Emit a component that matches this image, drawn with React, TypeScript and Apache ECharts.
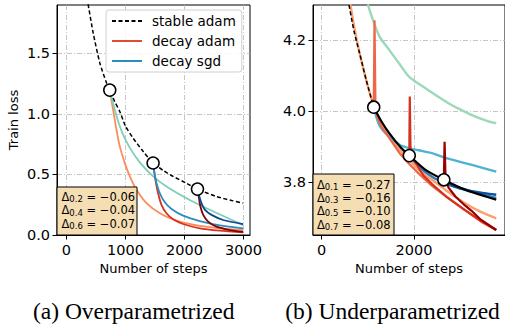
import React, { useEffect, useRef } from "react";
import * as echarts from "echarts";

type P = [number, number];

// ---------- Left panel: Overparametrized ----------
const leftXTicks = [0, 1000, 2000, 3000];
const leftYTicks = [0, 0.5, 1.0, 1.5];
const leftStable: P[] = [
  [367, 1.907], [452, 1.672], [565, 1.423], [678, 1.258], [734, 1.197], [820, 1.1],
  [904, 1.02], [1000, 0.9], [1130, 0.8], [1300, 0.69], [1468, 0.595], [1650, 0.53],
  [1808, 0.484], [2034, 0.428], [2220, 0.379], [2542, 0.318], [2800, 0.285], [2994, 0.263],
];
const leftAdam02: P[] = [
  [734, 1.19], [790, 1.036], [847, 0.871], [904, 0.732], [989, 0.594], [1074, 0.484],
  [1187, 0.373], [1356, 0.263], [1582, 0.18], [1864, 0.119], [2260, 0.075], [2712, 0.05],
  [2994, 0.041],
];
const leftSgd02: P[] = [
  [734, 1.19], [819, 1.036], [875, 0.94], [960, 0.83], [1074, 0.72], [1243, 0.6],
  [1469, 0.484], [1695, 0.401], [2034, 0.304], [2373, 0.221], [2712, 0.145], [2994, 0.082],
];
const leftAdam04: P[] = [
  [1468, 0.595], [1485, 0.53], [1514, 0.44], [1553, 0.345], [1610, 0.249], [1695, 0.18],
  [1808, 0.13], [1977, 0.091], [2260, 0.055], [2599, 0.036], [2994, 0.022],
];
const leftSgd04: P[] = [
  [1468, 0.595], [1496, 0.5], [1525, 0.43], [1582, 0.345], [1667, 0.27], [1780, 0.215],
  [1977, 0.16], [2260, 0.115], [2599, 0.08], [2994, 0.055],
];
const leftAdam06: P[] = [
  [2220, 0.379], [2243, 0.31], [2270, 0.235], [2317, 0.166], [2401, 0.111], [2542, 0.069],
  [2768, 0.041], [2994, 0.025],
];
const leftSgd06: P[] = [
  [2220, 0.379], [2245, 0.33], [2288, 0.263], [2345, 0.21], [2458, 0.166], [2655, 0.124],
  [2994, 0.09],
];
const leftMarkers: P[] = [[734, 1.197], [1468, 0.595], [2220, 0.379]];
const leftDeltaKeys = ["0.2", "0.4", "0.6"];
const leftDeltaVals = ["−0.06", "−0.04", "−0.07"];

// ---------- Right panel: Underparametrized ----------
const rightXTicks = [0, 2000];
const rightYTicks = [3.8, 4.0, 4.2];
const rightStable: P[] = [
  [592, 4.298], [700, 4.225], [821, 4.163], [964, 4.088], [1128, 4.011], [1300, 3.97],
  [1464, 3.938], [1700, 3.9], [1899, 3.875], [2250, 3.835], [2649, 3.807], [3107, 3.779],
  [3464, 3.764], [3785, 3.751],
];
const rightAdam01: P[] = [
  [620, 4.3], [700, 4.24], [800, 4.175], [892, 4.125], [1000, 4.07], [1128, 4.014],
  [1300, 3.965], [1464, 3.928], [1700, 3.89], [1893, 3.863], [2100, 3.835], [2393, 3.807],
  [2700, 3.777], [3107, 3.741], [3450, 3.717], [3785, 3.699],
];
const rightSgd01: P[] = [
  [1000, 4.3], [1100, 4.26], [1250, 4.21], [1464, 4.172], [1700, 4.13], [1893, 4.097],
  [2250, 4.064], [2750, 4.022], [3000, 4.005], [3321, 3.985], [3600, 3.972], [3785, 3.966],
];
const rightAdam03: P[] = [
  [1128, 4.011], [1145, 4.255], [1165, 4.02], [1200, 3.985], [1300, 3.955], [1464, 3.925],
  [1700, 3.88], [1893, 3.852], [2100, 3.825], [2393, 3.79], [2700, 3.76], [3107, 3.722],
  [3450, 3.69], [3785, 3.666],
];
const rightSgd03: P[] = [
  [1128, 4.011], [1250, 3.96], [1464, 3.928], [1700, 3.905], [1893, 3.896], [2100, 3.89],
  [2393, 3.882], [2700, 3.868], [3107, 3.854], [3450, 3.842], [3785, 3.83],
];
const rightAdam05: P[] = [
  [1899, 3.875], [1910, 4.041], [1925, 3.9], [1950, 3.87], [2036, 3.855], [2200, 3.82],
  [2393, 3.795], [2700, 3.76], [3107, 3.722], [3450, 3.692], [3785, 3.666],
];
const rightSgd05: P[] = [
  [1899, 3.875], [2107, 3.844], [2400, 3.815], [2679, 3.797], [3000, 3.782], [3250, 3.775],
  [3500, 3.765], [3785, 3.756],
];
const rightAdam07: P[] = [
  [2649, 3.807], [2665, 3.914], [2685, 3.81], [2750, 3.785], [2900, 3.76], [3107, 3.735],
  [3250, 3.72], [3450, 3.695], [3785, 3.666],
];
const rightSgd07: P[] = [
  [2649, 3.807], [2821, 3.792], [3000, 3.784], [3250, 3.775], [3500, 3.77], [3785, 3.765],
];
const rightMarkers: P[] = [[1128, 4.011], [1899, 3.875], [2649, 3.807]];
const rightDeltaKeys = ["0.1", "0.3", "0.5", "0.7"];
const rightDeltaVals = ["−0.27", "−0.16", "−0.10", "−0.08"];

const FONT = "DejaVu Sans";
const gridDash = [5, 2, 1, 2];

function axisCommon(ticks: number[], fmt: (v: number) => string) {
  return {
    axisLine: { show: true, onZero: false, lineStyle: { color: "#000", width: 1 } },
    axisTick: { show: true, inside: false, length: 4.5, customValues: ticks, lineStyle: { color: "#000", width: 1 } },
    axisLabel: {
      show: true, customValues: ticks, color: "#000", fontSize: 14.5, margin: 7, fontFamily: FONT,
      formatter: fmt,
    },
    splitLine: { show: true, lineStyle: { color: "#b8b8b8", width: 0.8, type: gridDash } },
  };
}

function lineSeries(name: string, data: P[], color: string, gi: number, width: number, z: number, extra: any = {}) {
  return {
    name, type: "line", data, xAxisIndex: gi, yAxisIndex: gi, showSymbol: false, symbol: "none",
    smooth: 0.25, z,
    lineStyle: { color, width, ...(extra.lineStyle || {}) },
    itemStyle: { color },
    ...(extra.opts || {}),
  };
}

function deltaText(keys: string[], vals: string[]) {
  return keys.map((k, i) => `{d|Δ}{s|${k}}{d| = ${vals[i]}}`).join("\n");
}

const richStyle = {
  d: { fontSize: 11.5, fontFamily: FONT, lineHeight: 13.3, fill: "#000" },
  s: { fontSize: 8.5, fontFamily: FONT, lineHeight: 7, verticalAlign: "bottom", fill: "#000" },
};

const intFmt = (v: number) => String(Math.round(v));
const decFmt = (v: number) => v.toFixed(1);

export default function App() {
  const ref = useRef<HTMLDivElement>(null);
  useEffect(() => {
    if (!ref.current) return;
    const chart = echarts.init(ref.current, null, { renderer: "svg" });
    const splitIdx = rightStable.findIndex((p) => p[0] === rightMarkers[0][0]);
    const option: any = {
      animation: false,
      backgroundColor: "#fff",
      textStyle: { fontFamily: FONT },
      grid: [
        { left: 57, top: 5, width: 193, height: 230, show: true, borderColor: "#000", borderWidth: 1, backgroundColor: "transparent" },
        { left: 313, top: 5, width: 194, height: 230, show: true, borderColor: "#000", borderWidth: 1, backgroundColor: "transparent" },
      ],
      xAxis: [
        {
          type: "value", gridIndex: 0, min: -160, max: 3110,
          name: "Number of steps", nameLocation: "middle", nameGap: 26,
          nameTextStyle: { fontSize: 13, color: "#000", fontFamily: FONT },
          ...axisCommon(leftXTicks, intFmt),
        },
        {
          type: "value", gridIndex: 1, min: -189, max: 3975,
          name: "Number of steps", nameLocation: "middle", nameGap: 26,
          nameTextStyle: { fontSize: 13, color: "#000", fontFamily: FONT },
          ...axisCommon(rightXTicks, intFmt),
        },
      ],
      yAxis: [
        {
          type: "value", gridIndex: 0, min: 0, max: 1.9,
          name: "Train loss", nameLocation: "middle", nameGap: 37,
          nameTextStyle: { fontSize: 13, color: "#000", fontFamily: FONT },
          ...axisCommon(leftYTicks, decFmt),
        },
        {
          type: "value", gridIndex: 1, min: 3.652, max: 4.298,
          ...axisCommon(rightYTicks, decFmt),
        },
      ],
      legend: {
        show: true, orient: "vertical", left: 106, top: 10,
        itemWidth: 30, itemHeight: 14, itemGap: 6,
        backgroundColor: "rgba(255,255,255,0.85)", borderColor: "#d0d0d0", borderWidth: 1, borderRadius: 3,
        padding: [4, 6, 4, 5],
        itemStyle: { opacity: 0 },
        lineStyle: { width: 2 },
        textStyle: { fontSize: 13.5, color: "#000", fontFamily: FONT, padding: [0, 0, 0, 5] },
        data: ["stable adam", "decay adam", "decay sgd"],
      },
      series: [
        // left
        lineSeries("decay adam 0.2", leftAdam02, "#fc8d59", 0, 1.8, 2),
        lineSeries("decay sgd 0.2", leftSgd02, "#7fcdbb", 0, 1.8, 2),
        lineSeries("decay adam 0.4", leftAdam04, "#d7301f", 0, 1.8, 2),
        lineSeries("decay sgd 0.4", leftSgd04, "#2b8cbe", 0, 1.8, 2),
        lineSeries("decay adam 0.6", leftAdam06, "#7f0000", 0, 1.8, 2),
        lineSeries("decay sgd 0.6", leftSgd06, "#0c4a8a", 0, 1.8, 2),
        lineSeries("stable adam", leftStable, "#000", 0, 1.5, 4, { lineStyle: { type: [4, 2.5] } }),
        lineSeries("decay adam", [], "#e34a33", 0, 2, 1),
        lineSeries("decay sgd", [], "#2b8cbe", 0, 2, 1),
        {
          type: "scatter", xAxisIndex: 0, yAxisIndex: 0, data: leftMarkers, symbolSize: 12, z: 6,
          itemStyle: { color: "#fff", borderColor: "#000", borderWidth: 1.5, opacity: 1 },
        },
        // right
        lineSeries("r sgd 0.1", rightSgd01, "#9dd8b8", 1, 2.4, 2),
        lineSeries("r adam 0.1", rightAdam01, "#fca06e", 1, 2.4, 2),
        lineSeries("r sgd 0.3", rightSgd03, "#4eb3d3", 1, 2.4, 2),
        lineSeries("r adam 0.3", rightAdam03, "#ef6548", 1, 2.2, 2, { opts: { smooth: false } }),
        lineSeries("r sgd 0.5", rightSgd05, "#2b7bba", 1, 2.4, 2),
        lineSeries("r adam 0.5", rightAdam05, "#d7301f", 1, 2.2, 2, { opts: { smooth: false } }),
        lineSeries("r sgd 0.7", rightSgd07, "#08519c", 1, 2.4, 3),
        lineSeries("r adam 0.7", rightAdam07, "#990000", 1, 2.2, 3, { opts: { smooth: false } }),
        lineSeries("r stable a", rightStable.slice(0, splitIdx + 1), "#000", 1, 1.5, 4, { lineStyle: { type: [4, 2.5] } }),
        lineSeries("r stable b", rightStable.slice(splitIdx), "#000", 1, 2.2, 4),
        {
          type: "scatter", xAxisIndex: 1, yAxisIndex: 1, data: rightMarkers, symbolSize: 12, z: 6,
          itemStyle: { color: "#fff", borderColor: "#000", borderWidth: 1.5, opacity: 1 },
        },
      ],
      graphic: [
        { type: "rect", z: 50, shape: { x: 57, y: 187, width: 80, height: 48 }, style: { fill: "#f5deb3", stroke: "#000", lineWidth: 1 } },
        { type: "text", z: 51, x: 61.5, y: 190.5, style: { text: deltaText(leftDeltaKeys, leftDeltaVals), rich: richStyle, fontFamily: FONT } },
        { type: "rect", z: 50, shape: { x: 313, y: 174, width: 81, height: 61 }, style: { fill: "#f5deb3", stroke: "#000", lineWidth: 1 } },
        { type: "text", z: 51, x: 317, y: 178, style: { text: deltaText(rightDeltaKeys, rightDeltaVals), rich: richStyle, fontFamily: FONT } },
        { type: "text", x: 133.7, y: 311, style: { text: "(a) Overparametrized", fontFamily: "Liberation Serif", fontSize: 23.5, fill: "#000", textAlign: "center", textVerticalAlign: "middle" } },
        { type: "text", x: 392.5, y: 311, style: { text: "(b) Underparametrized", fontFamily: "Liberation Serif", fontSize: 23.5, fill: "#000", textAlign: "center", textVerticalAlign: "middle" } },
      ],
    };
    chart.setOption(option);
    return () => chart.dispose();
  }, []);
  return <div ref={ref} style={{ width: 505, height: 328, position: "absolute", left: 0, top: 0 }} />;
}
